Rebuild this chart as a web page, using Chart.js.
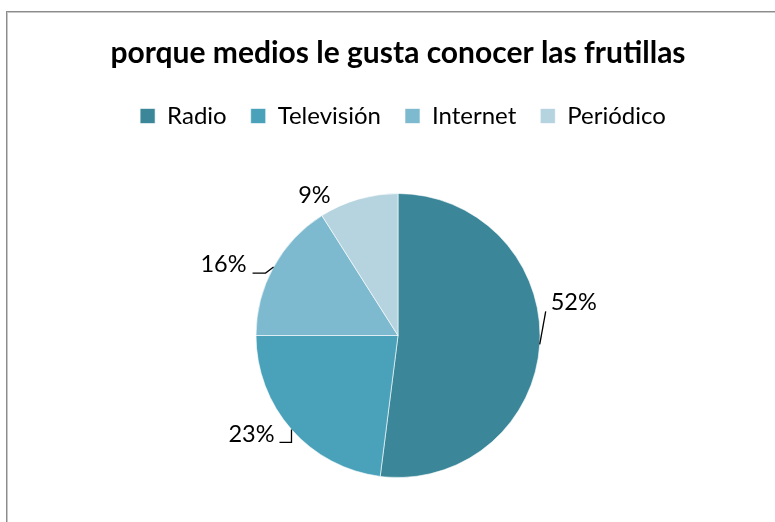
<!DOCTYPE html>
<html>
<head>
<meta charset="utf-8">
<script src="https://cdn.jsdelivr.net/npm/chart.js@4/dist/chart.umd.min.js"></script>
<style>
  html, body { margin: 0; padding: 0; background: #fff; overflow: hidden; }
  #frame {
    position: absolute; left: 6px; top: 11px; width: 820px; height: 560px;
    border: 1px solid #8c8c8c; box-shadow: inset 1px 1px 0 #c8c8c8;
  }
  #c { position: absolute; left: 0; top: 0; }
</style>
</head>
<body>
<div id="frame"></div>
<canvas id="c" width="775" height="522"></canvas>
<script>
const titleText = 'porque medios le gusta conocer las frutillas';
const categories = ['Radio', 'Televisión', 'Internet', 'Periódico'];
const percents = [52, 23, 16, 9];
const sliceColors = ['#3B8799', '#49A2BA', '#7EBACF', '#B6D4E0'];

const FONT = 'Lato, "Open Sans", sans-serif';

// Placement of each percentage label relative to the point where the
// slice's middle meets the rim: offset, alignment and leader path (relative)
const labelPlacement = [
  { dx: 11, dy: -42, align: 'left',   leader: [[0, 0], [6, -33]] },
  { dx: -17, dy: 5,  align: 'right',  leader: [[0, 0], [0, 13], [-12, 13]] },
  { dx: -27, dy: -3, align: 'right',  leader: [[0, 0], [-8, 6], [-21, 6]] },
  { dx: -44, dy: -4, align: 'center', leader: null }
];

const outsideLabels = {
  id: 'outsideLabels',
  afterDatasetsDraw(chart) {
    const ctx = chart.ctx;
    const meta = chart.getDatasetMeta(0);
    const data = chart.data.datasets[0].data;
    ctx.save();
    meta.data.forEach((arc, i) => {
      const mid = (arc.startAngle + arc.endAngle) / 2;
      const rx = arc.x + Math.cos(mid) * arc.outerRadius;
      const ry = arc.y + Math.sin(mid) * arc.outerRadius;
      const p = labelPlacement[i];
      if (p.leader) {
        ctx.beginPath();
        p.leader.forEach(([lx, ly], k) => {
          if (k === 0) ctx.moveTo(rx + lx, ry + ly);
          else ctx.lineTo(rx + lx, ry + ly);
        });
        ctx.strokeStyle = '#000';
        ctx.lineWidth = 1.3;
        ctx.stroke();
      }
      ctx.fillStyle = '#000';
      ctx.font = '23.5px ' + FONT;
      ctx.textAlign = p.align;
      ctx.textBaseline = 'middle';
      ctx.fillText(data[i] + '%', rx + p.dx, ry + p.dy);
    });
    ctx.restore();
  }
};

// Extra room between the legend and the pie, and a slight nudge of the legend row
const legendGap = {
  id: 'legendGap',
  beforeInit(chart) {
    const fit = chart.legend.fit;
    chart.legend.fit = function () {
      fit.call(this);
      this.height += 52;
    };
  },
  afterLayout(chart) {
    chart.legend.left += 5;
    chart.legend.right += 5;
  }
};

new Chart(document.getElementById('c'), {
  type: 'pie',
  data: {
    labels: categories,
    datasets: [{
      data: percents,
      backgroundColor: sliceColors,
      borderColor: 'rgba(255,255,255,0.6)',
      borderWidth: 1
    }]
  },
  options: {
    responsive: false,
    animation: false,
    radius: 142,
    layout: { padding: { left: 21, right: 0, top: 0, bottom: 41 } },
    plugins: {
      title: {
        display: true,
        text: titleText,
        color: '#000',
        font: { family: FONT, size: 30, weight: 'bold' },
        padding: { top: 35, bottom: 9 }
      },
      legend: {
        position: 'top',
        labels: {
          color: '#000',
          font: { family: FONT, size: 24 },
          boxWidth: 15,
          boxHeight: 15,
          padding: 24
        }
      },
      tooltip: { enabled: false }
    }
  },
  plugins: [outsideLabels, legendGap]
});
</script>
</body>
</html>
